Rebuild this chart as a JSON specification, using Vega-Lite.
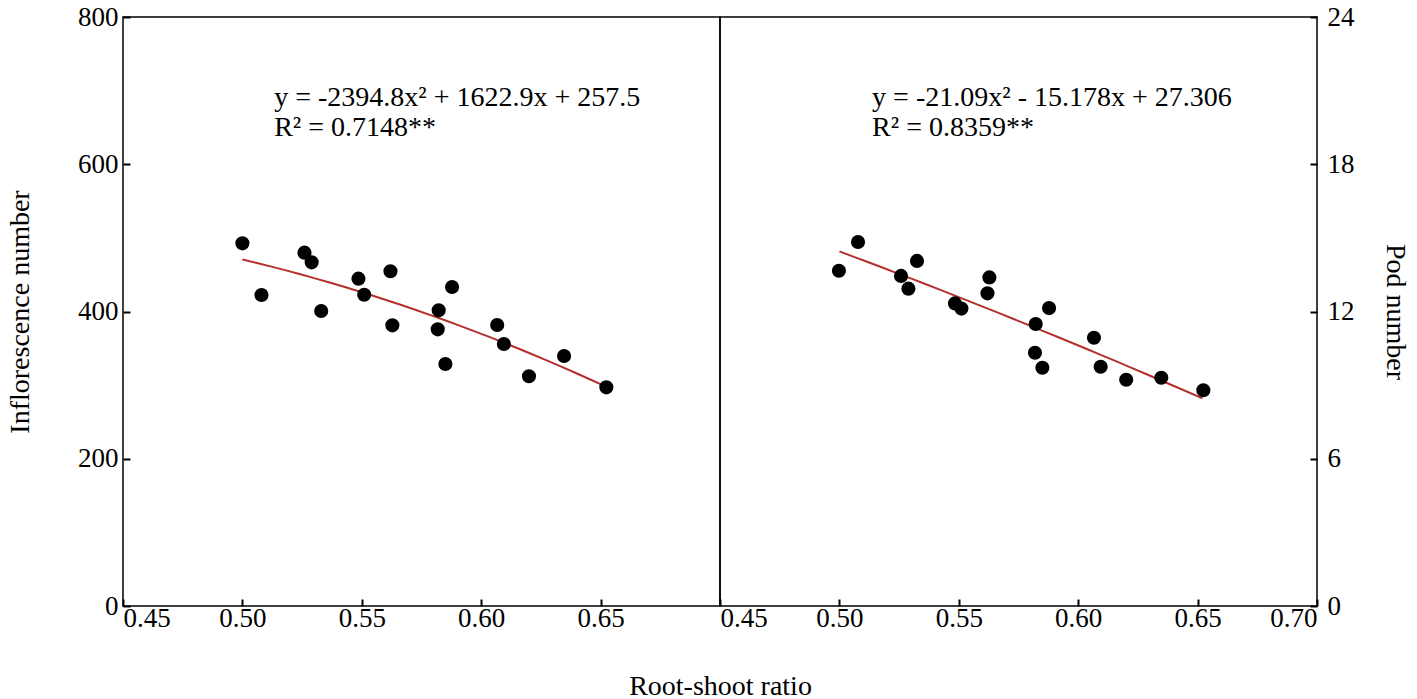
{
  "$schema": "https://vega.github.io/schema/vega-lite/v6.json",
  "background": "white",
  "padding": {"left": 5, "top": 2, "right": 0, "bottom": 0},
  "spacing": 0,
  "bounds": "flush",
  "config": {
    "font": "Liberation Serif",
    "view": {"stroke": "black", "strokeWidth": 1.5},
    "axis": {
      "domain": false,
      "grid": false,
      "ticks": true,
      "zindex": 2,
      "tickColor": "black",
      "tickSize": -7,
      "tickWidth": 2,
      "labelFont": "Liberation Serif",
      "labelFontSize": 27,
      "labelColor": "black",
      "labelPadding": 6,
      "titleFont": "Liberation Serif",
      "titleFontSize": 28,
      "titleFontWeight": "normal",
      "titleColor": "black"
    }
  },
  "datasets": {
    "inflo": [
      {"ratio": 0.500, "value": 492.6},
      {"ratio": 0.508, "value": 422.4},
      {"ratio": 0.526, "value": 479.9},
      {"ratio": 0.529, "value": 466.8},
      {"ratio": 0.533, "value": 400.7},
      {"ratio": 0.5486, "value": 444.6},
      {"ratio": 0.551, "value": 422.8},
      {"ratio": 0.562, "value": 454.6},
      {"ratio": 0.5628, "value": 381.2},
      {"ratio": 0.5822, "value": 401.6},
      {"ratio": 0.5818, "value": 375.8},
      {"ratio": 0.5878, "value": 433.3},
      {"ratio": 0.585, "value": 328.7},
      {"ratio": 0.6067, "value": 381.7},
      {"ratio": 0.6095, "value": 355.9},
      {"ratio": 0.620, "value": 312.0},
      {"ratio": 0.6347, "value": 339.6},
      {"ratio": 0.6524, "value": 297.0}
    ],
    "pod": [
      {"ratio": 0.4998, "value": 13.66},
      {"ratio": 0.5078, "value": 14.83},
      {"ratio": 0.5258, "value": 13.45},
      {"ratio": 0.5289, "value": 12.93},
      {"ratio": 0.5325, "value": 14.06},
      {"ratio": 0.5484, "value": 12.33},
      {"ratio": 0.5511, "value": 12.12},
      {"ratio": 0.5628, "value": 13.39},
      {"ratio": 0.562, "value": 12.74},
      {"ratio": 0.5822, "value": 11.49},
      {"ratio": 0.5878, "value": 12.14},
      {"ratio": 0.5819, "value": 10.32},
      {"ratio": 0.585, "value": 9.71},
      {"ratio": 0.6066, "value": 10.93},
      {"ratio": 0.6094, "value": 9.75},
      {"ratio": 0.6201, "value": 9.22},
      {"ratio": 0.6348, "value": 9.30},
      {"ratio": 0.6524, "value": 8.79}
    ],
    "single": [{}]
  },
  "hconcat": [
    {
      "width": 597,
      "height": 589,
      "layer": [
        {
          "data": {"name": "inflo"},
          "transform": [
            {"regression": "value", "on": "ratio", "method": "poly", "order": 2, "extent": [0.5, 0.652]}
          ],
          "mark": {"type": "line", "color": "#b5302c", "strokeWidth": 2},
          "encoding": {
            "x": {"field": "ratio", "type": "quantitative"},
            "y": {"field": "value", "type": "quantitative"}
          }
        },
        {
          "data": {"name": "inflo"},
          "mark": {"type": "circle", "color": "black", "opacity": 1, "size": 200},
          "encoding": {
            "x": {
              "field": "ratio", "type": "quantitative",
              "scale": {"domain": [0.45, 0.70], "nice": false, "zero": false},
              "axis": {
                "values": [0.45, 0.5, 0.55, 0.6, 0.65],
                "format": ".2f",
                "title": "Root-shoot ratio",
                "titleX": 597,
                "titleAnchor": "middle",
                "titleAlign": "center",
                "titlePadding": 41
              }
            },
            "y": {
              "field": "value", "type": "quantitative",
              "scale": {"domain": [0, 800], "nice": false},
              "axis": {
                "values": [0, 200, 400, 600, 800],
                "title": "Inflorescence number",
                "labelPadding": 12,
                "titlePadding": 43
              }
            }
          }
        },
        {
          "data": {"name": "single"},
          "mark": {"type": "text", "align": "left", "baseline": "middle", "fontSize": 28, "font": "Liberation Serif", "color": "black"},
          "encoding": {
            "x": {"datum": 0.5133, "type": "quantitative"},
            "y": {"datum": 690, "type": "quantitative"},
            "text": {"value": "y = -2394.8x² + 1622.9x + 257.5"}
          }
        },
        {
          "data": {"name": "single"},
          "mark": {"type": "text", "align": "left", "baseline": "middle", "fontSize": 28, "font": "Liberation Serif", "color": "black"},
          "encoding": {
            "x": {"datum": 0.5133, "type": "quantitative"},
            "y": {"datum": 649, "type": "quantitative"},
            "text": {"value": "R² = 0.7148**"}
          }
        }
      ]
    },
    {
      "width": 597,
      "height": 589,
      "layer": [
        {
          "data": {"name": "pod"},
          "transform": [
            {"regression": "value", "on": "ratio", "method": "poly", "order": 2, "extent": [0.5, 0.652]}
          ],
          "mark": {"type": "line", "color": "#b5302c", "strokeWidth": 2},
          "encoding": {
            "x": {"field": "ratio", "type": "quantitative"},
            "y": {"field": "value", "type": "quantitative"}
          }
        },
        {
          "data": {"name": "pod"},
          "mark": {"type": "circle", "color": "black", "opacity": 1, "size": 200},
          "encoding": {
            "x": {
              "field": "ratio", "type": "quantitative",
              "scale": {"domain": [0.45, 0.70], "nice": false, "zero": false},
              "axis": {
                "values": [0.45, 0.5, 0.55, 0.6, 0.65, 0.7],
                "format": ".2f",
                "title": null
              }
            },
            "y": {
              "field": "value", "type": "quantitative",
              "scale": {"domain": [0, 24], "nice": false},
              "axis": {
                "orient": "right",
                "values": [0, 6, 12, 18, 24],
                "title": "Pod number",
                "labelPadding": 17,
                "titlePadding": 26
              }
            }
          }
        },
        {
          "data": {"name": "single"},
          "mark": {"type": "text", "align": "left", "baseline": "middle", "fontSize": 28, "font": "Liberation Serif", "color": "black"},
          "encoding": {
            "x": {"datum": 0.5137, "type": "quantitative"},
            "y": {"datum": 20.7, "type": "quantitative"},
            "text": {"value": "y = -21.09x² - 15.178x + 27.306"}
          }
        },
        {
          "data": {"name": "single"},
          "mark": {"type": "text", "align": "left", "baseline": "middle", "fontSize": 28, "font": "Liberation Serif", "color": "black"},
          "encoding": {
            "x": {"datum": 0.5137, "type": "quantitative"},
            "y": {"datum": 19.48, "type": "quantitative"},
            "text": {"value": "R² = 0.8359**"}
          }
        }
      ]
    }
  ]
}
